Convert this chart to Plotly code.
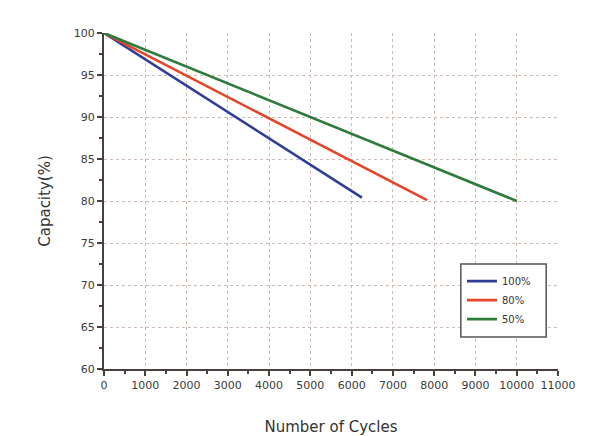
import plotly.graph_objects as go

cycles_100 = [0, 6250]
cap_100 = [100, 80.4]
cycles_80 = [0, 7830]
cap_80 = [100, 80.1]
cycles_50 = [0, 10000]
cap_50 = [100, 80.0]
names = ["100%", "80%", "50%"]
colors = ["#2f3d96", "#e2472b", "#2f7b3b"]

x_ticks = list(range(0, 11001, 1000))
y_ticks = list(range(60, 101, 5))

fig = go.Figure()
for xs, ys, n, c in zip([cycles_100, cycles_80, cycles_50], [cap_100, cap_80, cap_50], names, colors):
    fig.add_trace(go.Scatter(x=xs, y=ys, mode="lines", name=n, line=dict(color=c, width=2.6)))

FONT = "DejaVu Sans, sans-serif"
tick_font = dict(family=FONT, size=11, color="#3a3a3a")
axis_color = "#4a3f3c"
grid_color = "#cdbcb4"

# box around the legend (paper coordinates)
fig.add_shape(type="rect", xref="paper", yref="paper",
              x0=0.786, x1=0.974, y0=0.095, y1=0.3125,
              line=dict(color="#555555", width=1.5), fillcolor="white", layer="above")

fig.update_layout(
    width=587, height=428,
    margin=dict(l=96, r=37, t=25, b=67),
    paper_bgcolor="white", plot_bgcolor="white",
    font=dict(family=FONT, color="#333333"),
    showlegend=True,
    xaxis=dict(
        range=[0, 11000], tickvals=x_ticks, ticktext=[str(v) for v in x_ticks],
        automargin=False,
        showline=True, linecolor=axis_color, linewidth=2,
        ticks="outside", ticklen=5, tickcolor=axis_color, tickwidth=1.5,
        minor=dict(dtick=500, ticks="outside", ticklen=3, tickcolor=axis_color, showgrid=False),
        showgrid=True, gridcolor=grid_color, griddash="dot", gridwidth=1,
        tickfont=tick_font, zeroline=False,
        title=dict(text="Number of Cycles", font=dict(family=FONT, size=15, color="#333333"), standoff=38),
    ),
    yaxis=dict(
        range=[60, 100], tickvals=y_ticks,
        automargin=False,
        showline=True, linecolor=axis_color, linewidth=2,
        ticks="outside", ticklen=5, tickcolor=axis_color, tickwidth=1.5,
        minor=dict(dtick=2.5, ticks="outside", ticklen=3, tickcolor=axis_color, showgrid=False),
        showgrid=True, gridcolor=grid_color, griddash="dot", gridwidth=1,
        tickfont=tick_font, zeroline=False,
        title=dict(text="Capacity(%)", font=dict(family=FONT, size=15, color="#333333"), standoff=20),
    ),
    legend=dict(
        x=0.87, y=0.205, xanchor="center", yanchor="middle",
        borderwidth=0, bgcolor="rgba(0,0,0,0)",
        font=dict(family=FONT, size=10, color="#333333"),
    ),
)

fig.write_html("out.html")
